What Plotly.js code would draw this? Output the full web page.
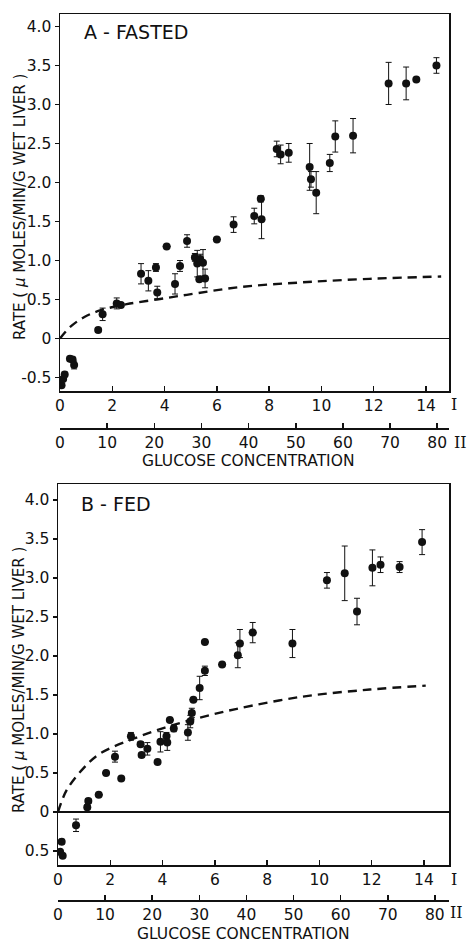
<!DOCTYPE html>
<html>
<head>
<meta charset="utf-8">
<script src="https://cdn.plot.ly/plotly-3.0.1.min.js"></script>
<style>html,body{margin:0;padding:0;background:#fff;}#chart{width:476px;height:947px;}</style>
</head>
<body>
<div id="chart"></div>
<script>
// ---------- Panel A (fasted) ----------
const fastedX    = [0.06,0.12,0.18,0.38,0.48,0.54,1.46,1.63,2.17,2.33,3.10,3.38,3.67,3.72,4.08,4.40,4.59,4.86,5.16,5.25,5.36,5.47,5.33,5.55,6.00,6.64,7.43,7.68,7.71,8.29,8.44,8.75,9.55,9.60,9.80,10.32,10.53,11.21,12.57,13.24,13.63,14.40];
const fastedRate = [-0.60,-0.52,-0.46,-0.26,-0.27,-0.34,0.11,0.31,0.45,0.43,0.83,0.74,0.91,0.59,1.18,0.70,0.93,1.25,1.04,0.96,1.02,0.97,0.76,0.77,1.27,1.46,1.57,1.79,1.53,2.43,2.36,2.38,2.20,2.04,1.87,2.25,2.59,2.60,3.27,3.27,3.32,3.50];
const fastedErr  = [0,0,0.03,0.03,0.03,0.05,0.03,0.08,0.07,0.02,0.13,0.13,0.05,0.08,0.01,0.13,0.07,0.08,0.05,0.17,0.06,0.17,0.03,0.12,0.02,0.10,0.10,0.04,0.25,0.10,0.12,0.12,0.30,0.10,0.27,0.11,0.20,0.22,0.27,0.21,0.02,0.10];
const fastedErrX = [0,0,0,0,0,0,0,0,0,0.08,0,0,0.08,0,0.15,0,0,0,0,0,0,0,0.08,0,0.15,0,0,0.08,0,0,0,0,0,0,0,0,0,0,0,0,0.08,0];
const fastedCurveX = [0,0.38,0.9,1.53,2.55,3.7,4.85,6.9,9.28,11.83,14.58];
const fastedCurveY = [0,0.145,0.27,0.36,0.44,0.50,0.56,0.66,0.72,0.765,0.795];

// ---------- Panel B (fed) ----------
const fedX    = [0.14,0.08,0.18,0.69,1.12,1.16,1.56,1.84,2.18,2.42,2.79,3.16,3.20,3.42,3.81,3.92,4.15,4.18,4.28,4.43,4.97,5.06,5.12,5.18,5.42,5.62,5.62,6.28,6.88,6.96,7.45,8.97,10.29,10.97,11.44,12.03,12.34,13.07,13.93];
const fedRate = [-0.38,-0.51,-0.56,-0.17,0.06,0.14,0.22,0.50,0.71,0.43,0.97,0.87,0.73,0.81,0.64,0.90,0.97,0.89,1.18,1.07,1.02,1.16,1.27,1.44,1.59,1.81,2.18,1.89,2.01,2.16,2.30,2.16,2.97,3.06,2.57,3.13,3.17,3.14,3.46];
const fedErr  = [0.03,0.03,0.02,0.08,0.03,0.03,0.02,0.01,0.07,0.02,0.05,0.03,0.03,0.08,0.02,0.13,0.05,0.10,0.02,0.04,0.10,0.08,0.06,0.01,0.15,0.06,0.01,0.01,0.16,0.18,0.13,0.18,0.10,0.35,0.17,0.23,0.10,0.07,0.16];
const fedErrX = [0.1,0.1,0,0,0,0.1,0.15,0.15,0,0.08,0,0.08,0.08,0,0.1,0,0,0,0.15,0,0,0,0,0.15,0,0,0.15,0.15,0,0,0.15,0,0,0,0,0,0,0,0];
const fedCurveX = [0,0.33,0.97,1.61,2.89,4.16,5.44,6.8,9.37,11.93,14.07];
const fedCurveY = [0,0.28,0.56,0.75,0.94,1.09,1.21,1.32,1.48,1.57,1.62];

// ---------- tick labels ----------
const scaleITicks  = [0,2,4,6,8,10,12,14];
const scaleITexts  = ['0','2','4','6','8','10','12','14'];
const scaleIITicks = [0,10,20,30,40,50,60,70,80];
const scaleIITexts = ['0','10','20','30','40','50','60','70','80'];
const rateTicks    = [-0.5,0,0.5,1.0,1.5,2.0,2.5,3.0,3.5,4.0];
const rateTextsA   = ['-0.5','0','0.5','1.0','1.5','2.0','2.5','3.0','3.5','4.0'];
const rateTextsB   = ['0.5','0','0.5','1.0','1.5','2.0','2.5','3.0','3.5','4.0'];

const W = 476, H = 947;
const px = v => v / W;
const py = v => 1 - v / H;
const INK = '#111';
const FONT = 'DejaVu Sans, Liberation Sans, sans-serif';

function pointTrace(x, y, ey, ex, xa, ya) {
  return {
    x: x, y: y, xaxis: xa, yaxis: ya, type: 'scatter', mode: 'markers',
    marker: {color: INK, size: 8, symbol: 'circle'},
    error_y: {type: 'data', array: ey, visible: true, color: INK, thickness: 1, width: 3},
    error_x: {type: 'data', array: ex, visible: true, color: INK, thickness: 1.5, width: 0},
    hoverinfo: 'skip', showlegend: false
  };
}
function curveTrace(x, y, xa, ya) {
  return {
    x: x, y: y, xaxis: xa, yaxis: ya, type: 'scatter', mode: 'lines',
    line: {color: INK, width: 2.4, dash: '9px,6px', shape: 'spline', smoothing: 1},
    hoverinfo: 'skip', showlegend: false
  };
}
// empty trace so the secondary (scale II) axis is registered and drawn
function axisHolder(xa, ya) {
  return {x: [], y: [], xaxis: xa, yaxis: ya, type: 'scatter', mode: 'markers', hoverinfo: 'skip', showlegend: false};
}

const data = [
  curveTrace(fastedCurveX, fastedCurveY, 'x', 'y'),
  pointTrace(fastedX, fastedRate, fastedErr, fastedErrX, 'x', 'y'),
  axisHolder('x3', 'y'),
  curveTrace(fedCurveX, fedCurveY, 'x2', 'y2'),
  pointTrace(fedX, fedRate, fedErr, fedErrX, 'x2', 'y2'),
  axisHolder('x4', 'y2')
];

const tickFont = {family: FONT, size: 15.5, color: INK};
function xI(domain, range, anchor) {
  return {domain: domain, range: range, anchor: anchor, tickmode: 'array', tickvals: scaleITicks, ticktext: scaleITexts,
    ticks: 'inside', ticklen: 5, tickwidth: 1.5, tickcolor: INK, showline: true, linecolor: INK, linewidth: 1.5,
    mirror: true, showgrid: false, zeroline: false, tickfont: tickFont, fixedrange: true};
}
function xII(over, range, pos) {
  return {overlaying: over, anchor: 'free', position: pos, side: 'bottom', range: range, tickmode: 'array',
    tickvals: scaleIITicks, ticktext: scaleIITexts, ticks: 'inside', ticklen: 5, tickwidth: 1.5, tickcolor: INK,
    showline: true, linecolor: INK, linewidth: 1.5, showgrid: false, zeroline: false, tickfont: tickFont, fixedrange: true};
}
function yR(domain, range, anchor, texts) {
  return {domain: domain, range: range, anchor: anchor, tickmode: 'array', tickvals: rateTicks, ticktext: texts,
    ticks: 'outside', ticklen: 4, tickwidth: 1.5, tickcolor: INK, showline: true, linecolor: INK, linewidth: 1.5,
    mirror: true, showgrid: false, zeroline: true, zerolinecolor: INK, zerolinewidth: 1.5, tickfont: tickFont, fixedrange: true};
}

const yTitle = 'RATE ( <i>μ</i> MOLES/MIN/G WET LIVER )';
const titleFont = {family: FONT, size: 15, color: INK};
const romanFont = {family: 'DejaVu Serif, Liberation Serif, serif', size: 16, color: INK};

function ann(text, x, y, font, extra) {
  return Object.assign({text: text, x: px(x), y: py(y), xref: 'paper', yref: 'paper', showarrow: false,
    xanchor: 'center', yanchor: 'middle', font: font}, extra || {});
}

const layout = {
  width: W, height: H,
  margin: {l: 0, r: 0, t: 0, b: 0},
  paper_bgcolor: '#fff', plot_bgcolor: '#fff',
  showlegend: false,
  xaxis:  xI([px(60), px(449)], [0, 14.88], 'y'),
  yaxis:  yR([py(391), py(14)], [-0.673, 4.160], 'x', rateTextsA),
  xaxis3: xII('x', [0, 82.5], py(428)),
  xaxis2: xI([px(58), px(449)], [0, 14.96], 'y2'),
  yaxis2: yR([py(865), py(484)], [-0.679, 4.205], 'x2', rateTextsB),
  xaxis4: xII('x2', [0, 83.0], py(900)),
  annotations: [
    ann('A - FASTED', 82, 32, {family: FONT, size: 19, color: INK}, {xanchor: 'left'}),
    ann('B - FED', 79, 504, {family: FONT, size: 19, color: INK}, {xanchor: 'left'}),
    ann(yTitle, 20, 207, titleFont, {textangle: -90}),
    ann(yTitle, 19, 680, titleFont, {textangle: -90}),
    ann('GLUCOSE CONCENTRATION', 248, 461, {family: FONT, size: 15.5, color: INK}),
    ann('GLUCOSE CONCENTRATION', 243, 934, {family: FONT, size: 15.5, color: INK}),
    ann('I', 454, 405, romanFont),
    ann('II', 460, 442, romanFont),
    ann('I', 454, 879, romanFont),
    ann('II', 456, 912, romanFont)
  ]
};

Plotly.newPlot('chart', data, layout, {staticPlot: true, displayModeBar: false});
</script>
</body>
</html>
